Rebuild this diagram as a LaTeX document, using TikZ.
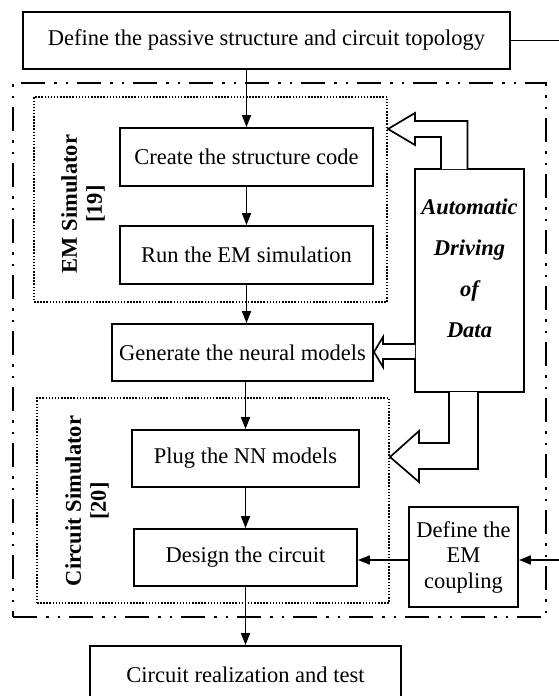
\documentclass[tikz,border=0pt]{standalone}
\usepackage{fontspec}
\setmainfont{Liberation Serif}
\usetikzlibrary{arrows.meta}
\begin{document}
\begin{tikzpicture}[x=1pt,y=-1pt,
  lbl/.style={font=\fontsize{22.5}{26}\selectfont},
  box/.style={draw, line width=1.9pt, inner sep=0pt, align=center, lbl},
  flow/.style={line width=1.8pt, -{Triangle[length=12pt,width=9pt]}},
  blockarrow/.style={draw, line width=1.7pt, fill=white, line join=miter},
  simframe/.style={draw, line width=1.6pt, dash pattern=on 1.5pt off 1.6pt, inner sep=0pt},
  outerframe/.style={draw, line width=1.9pt, inner sep=0pt, dash pattern=on 24pt off 9pt on 2.5pt off 9pt on 2.5pt off 9pt},
  simlabel/.style={font=\bfseries\fontsize{22.5}{25}\selectfont, align=center, rotate=90, inner sep=0pt}
]
\useasboundingbox (0,0) rectangle (558,696);

% frames
\node[outerframe, minimum width=533pt, minimum height=534pt] (outer) at (279.5,350) {};
\node[simframe, minimum width=353pt, minimum height=205pt] (emsim) at (210.5,199.5) {};
\node[simframe, minimum width=352pt, minimum height=205pt] (cirsim) at (213,500.5) {};

% boxes
\node[box, minimum width=487pt, minimum height=57pt] (top) at (266.5,40.5) {Define the passive structure and circuit topology};
\node[box, minimum width=253pt, minimum height=58pt] (create) at (246.5,157) {Create the structure code};
\node[box, minimum width=253pt, minimum height=58pt] (run) at (246.5,255) {Run the EM simulation};
\node[box, minimum width=261pt, minimum height=57pt] (gen) at (242.5,352.5) {Generate the neural models};
\node[box, minimum width=227pt, minimum height=57pt] (plug) at (245.5,458.5) {Plug the NN models};
\node[box, minimum width=223pt, minimum height=57pt] (design) at (245.5,557.5) {Design the circuit};
\node[box, minimum width=311pt, minimum height=57pt] (real) at (245.5,674.5) {Circuit realization and test};
\node[box, minimum width=109pt, minimum height=223pt] (auto) at (469.5,280.5) {};
\node[font=\bfseries\itshape\fontsize{22.5}{41}\selectfont, align=center, inner sep=0pt] (autotext) at (469.5,268) {Automatic\\Driving\\of\\Data};
\node[box, font=\fontsize{22.5}{25.5}\selectfont, minimum width=109pt, minimum height=100pt] (coupling) at (463.5,557) {Define the\\EM\\coupling};

% rotated labels
\node[simlabel] (emlabel) at (83,204) {EM Simulator\\{[19]}};
\node[simlabel] (cirlabel) at (87,501) {Circuit Simulator\\{[20]}};

% flow arrows
\draw[flow] (create.north |- top.south) -- (create.north);
\draw[flow] (create.south) -- (run.north);
\draw[flow] (run.south) -- (run.south |- gen.north);
\draw[flow] (plug.north |- gen.south) -- (plug.north);
\draw[flow] (plug.south) -- (design.north);
\draw[flow] (design.south) -- (real.north);

% right side feedback line
\coordinate (rc) at (559.5,560);
\draw[flow] (top.east) -| (rc) -- (rc -| coupling.east);
\draw[flow] (coupling.west |- rc) -- (design.east |- rc);

% block arrows
\draw[blockarrow] (441,169) -- (441,137) -- (415,137) -- (415,145) -- (388,129) -- (415,113) -- (415,121) -- (467.5,121) -- (467.5,169);
\draw[blockarrow] (415,344) -- (383,344) -- (383,337) -- (374,352) -- (383,367) -- (383,359) -- (415,359);
\draw[blockarrow] (449,392) -- (449,443) -- (419,443) -- (419,431) -- (390,457) -- (419,482) -- (419,469) -- (478,469) -- (478,392);
\end{tikzpicture}
\end{document}
